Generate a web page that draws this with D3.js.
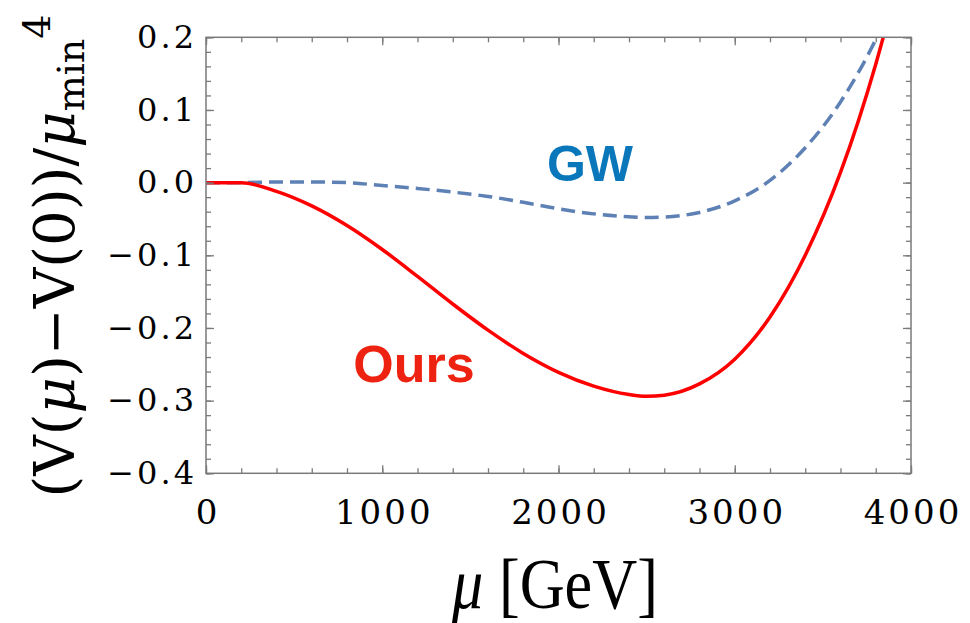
<!DOCTYPE html>
<html>
<head>
<meta charset="utf-8">
<script src="https://cdn.jsdelivr.net/npm/d3@7"></script>
<style>
body { margin: 0; background: #fff; }
</style>
</head>
<body>
<script>
var width = 970;
var height = 623;
var plotL = 206, plotR = 911, plotT = 37.3, plotB = 473.3;

// data
var muOurs = [0, 200, 400, 600, 800, 1000, 1200, 1400, 1600, 1800, 2000, 2200, 2400, 2500, 2600, 2800, 3000, 3200, 3400, 3600, 3800, 3900];
var vOurs  = [0, 0, -0.012, -0.032, -0.059, -0.092, -0.129, -0.167, -0.203, -0.235, -0.261, -0.28, -0.2915, -0.294, -0.2925, -0.277, -0.243, -0.185, -0.1, 0.014, 0.163, 0.252];
var muGW = [0, 200, 400, 600, 800, 1000, 1200, 1400, 1600, 1800, 2000, 2200, 2400, 2500, 2600, 2800, 3000, 3200, 3400, 3600, 3800, 3900];
var vGW  = [0, 0, 0.001, 0.001, 0, -0.004, -0.008, -0.013, -0.019, -0.027, -0.036, -0.043, -0.047, -0.048, -0.0474, -0.041, -0.025, 0.003, 0.048, 0.111, 0.197, 0.25];
var xTicks = [0, 1000, 2000, 3000, 4000];
var yTicks = [0.2, 0.1, 0, -0.1, -0.2, -0.3, -0.4];
var xMinor = d3.range(0, 4001, 200);
var yMinor = d3.range(-0.4, 0.2001, 0.02);

var svg = d3.select("body").append("svg")
  .attr("width", width)
  .attr("height", height)

var x = d3.scaleLinear().domain([0, 4000]).range([plotL, plotR]);
var y = d3.scaleLinear().domain([-0.4, 0.2]).range([plotB, plotT]);

svg.append("clipPath").attr("id", "plot")
  .append("rect")
  .attr("x", plotL).attr("y", plotT)
  .attr("width", plotR - plotL).attr("height", plotB - plotT)

var line = d3.line()
  .x(d => x(d[0]))
  .y(d => y(d[1]))
  .curve(d3.curveMonotoneX)

svg.append("path")
  .datum(d3.zip(muGW, vGW))
  .attr("clip-path", "url(#plot)")
  .attr("fill", "none")
  .attr("stroke", "#5e81b5")
  .attr("stroke-width", 3.5)
  .attr("stroke-dasharray", "14,7")
  .attr("d", line)

svg.append("path")
  .datum(d3.zip(muOurs, vOurs))
  .attr("clip-path", "url(#plot)")
  .attr("fill", "none")
  .attr("stroke", "#ff0000")
  .attr("stroke-width", 3.5)
  .attr("d", line)

// frame ticks, all pointing inward
function ticks(axis, tx, vals, size, fmt) {
  var g = svg.append("g")
    .attr("transform", tx)
    .call(axis.tickValues(vals).tickSize(size).tickFormat(fmt || ""))
  g.select(".domain").remove()
  g.selectAll("line").attr("stroke", "#7a7a7a").attr("stroke-width", 1.3)
  return g
}
ticks(d3.axisBottom(x), "translate(0," + plotB + ")", xMinor, -5)
ticks(d3.axisTop(x), "translate(0," + plotT + ")", xMinor, -5)
ticks(d3.axisLeft(y), "translate(" + plotL + ",0)", yMinor, -5)
ticks(d3.axisRight(y), "translate(" + plotR + ",0)", yMinor, -5)
ticks(d3.axisTop(x), "translate(0," + plotT + ")", xTicks, -8)
ticks(d3.axisRight(y), "translate(" + plotR + ",0)", yTicks, -8)

var xa = ticks(d3.axisBottom(x).tickPadding(27), "translate(0," + plotB + ")", xTicks, -8, d3.format("d"))
var ya = ticks(d3.axisLeft(y).tickPadding(9), "translate(" + plotL + ",0)", yTicks, -8, d3.format(".1f"))

svg.selectAll("g").attr("font-family", null).attr("font-size", null)
xa.selectAll("text")
  .style("font-family", "DejaVu Serif")
  .style("font-size", "34px")
  .style("letter-spacing", "3px")
  .attr("dx", "1.5px")
  .attr("fill", "#000")
ya.selectAll("text")
  .style("font-family", "DejaVu Serif")
  .style("font-size", "32px")
  .style("letter-spacing", "3px")
  .attr("fill", "#000")

svg.append("rect")
  .attr("x", plotL).attr("y", plotT)
  .attr("width", plotR - plotL).attr("height", plotB - plotT)
  .attr("fill", "none")
  .attr("stroke", "#7a7a7a")
  .attr("stroke-width", 1.5)

// curve labels
svg.append("text")
  .attr("x", 590).attr("y", 181)
  .attr("text-anchor", "middle")
  .style("font-family", "Liberation Sans")
  .style("font-weight", "bold")
  .style("font-size", "50px")
  .attr("fill", "#0a77bb")
  .text("GW")

svg.append("text")
  .attr("x", 414).attr("y", 382)
  .attr("text-anchor", "middle")
  .style("font-family", "Liberation Sans")
  .style("font-weight", "bold")
  .style("font-size", "52px")
  .attr("fill", "#ee2211")
  .text("Ours")

// axis titles
var xt = svg.append("text")
  .attr("transform", "translate(555,608) scale(0.865,1)")
  .attr("text-anchor", "middle")
  .style("font-family", "Liberation Serif")
  .style("font-size", "72px")
xt.append("tspan").style("font-style", "italic").text("μ")
xt.append("tspan").text(" [GeV]")

var yt = svg.append("text")
  .attr("transform", "translate(74,256) rotate(-90)")
  .attr("text-anchor", "middle")
  .style("font-family", "DejaVu Serif")
  .style("font-size", "56px")
yt.append("tspan").text("(V(")
yt.append("tspan").style("font-style", "italic").text("μ")
yt.append("tspan").text(")−V(0))/")
yt.append("tspan").style("font-style", "italic").text("μ")
yt.append("tspan").attr("dy", 10).style("font-size", "38px").text("min")
yt.append("tspan").attr("dy", -34).style("font-size", "38px").text("4")
</script>
</body>
</html>
